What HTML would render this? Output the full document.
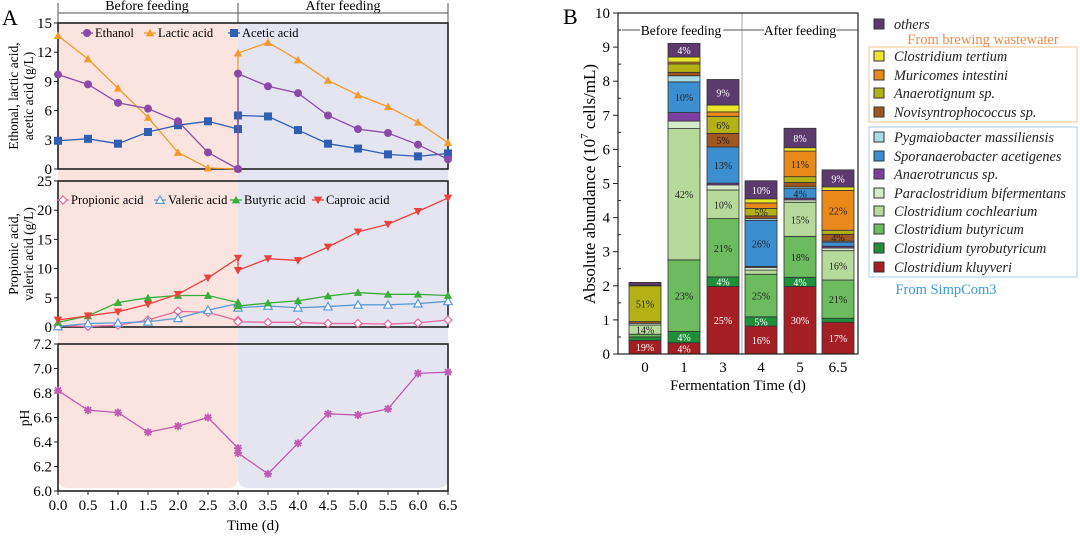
<!DOCTYPE html>
<html><head><meta charset="utf-8">
<style>
body{margin:0;background:#fff;}
svg{display:block;font-family:"Liberation Serif",serif;}
</style></head>
<body>
<svg id="fig" width="1080" height="541" viewBox="0 0 1080 541" xmlns="http://www.w3.org/2000/svg">
<g id="A"></g>
<g id="B"></g>
</svg>
<script>
// ---------- Panel A data ----------
const times = [0,0.5,1.0,1.5,2.0,2.5,3.0,3.0,3.5,4.0,4.5,5.0,5.5,6.0,6.5];
const ethanol = [9.7,8.7,6.8,6.2,4.9,1.7,0,9.8,8.5,7.8,5.5,4.1,3.7,2.5,1.0];
const lactic  = [13.7,11.3,8.3,5.3,1.7,0.1,0,11.9,13.0,11.2,9.1,7.6,6.4,4.8,2.7];
const acetic  = [2.9,3.1,2.6,3.8,4.5,4.9,4.1,5.5,5.4,4.0,2.6,2.1,1.5,1.3,1.6];
const propionic = [0.2,0.1,0.3,1.2,2.7,2.5,1.1,0.9,0.8,0.8,0.6,0.6,0.5,0.7,1.2];
const valeric = [0.1,0.6,0.7,0.9,1.5,2.9,4.0,3.3,3.6,3.3,3.5,3.8,3.8,4.0,4.4];
const butyric = [0.8,1.9,4.2,5.0,5.4,5.4,4.2,3.6,4.1,4.5,5.3,5.9,5.6,5.6,5.4];
const caproic = [1.2,1.9,2.6,3.9,5.6,8.4,11.8,9.7,11.7,11.4,13.7,16.3,17.6,19.8,22.1];
const ph = [6.82,6.66,6.64,6.48,6.53,6.60,6.35,6.31,6.14,6.39,6.63,6.62,6.67,6.96,6.97];
const xTicks = ["0.0","0.5","1.0","1.5","2.0","2.5","3.0","3.5","4.0","4.5","5.0","5.5","6.0","6.5"];
const topTicks = [0,3,6,9,12,15];
const midTicks = [0,5,10,15,20,25];
const phTicks = ["6.0","6.2","6.4","6.6","6.8","7.0","7.2"];

// ---------- Panel B data ----------
const bCats = ["0","1","3","4","5","6.5"];
const species = ["Clostridium kluyveri","Clostridium tyrobutyricum","Clostridium butyricum","Clostridium cochlearium","Paraclostridium bifermentans","Anaerotruncus sp.","Sporanaerobacter acetigenes","Pygmaiobacter massiliensis","Novisyntrophococcus sp.","Anaerotignum sp.","Muricomes intestini","Clostridium tertium","others"];
const kluyveri = [0.40,0.33,1.98,0.82,1.98,0.93];
const tyrobutyricum = [0.10,0.33,0.28,0.27,0.27,0.12];
const butyricum = [0.08,2.10,1.71,1.25,1.20,1.12];
const cochlearium = [0.27,3.85,0.84,0.12,1.00,0.86];
const bifermentans = [0.05,0.22,0.15,0.08,0.07,0.08];
const anaerotruncus = [0.00,0.25,0.05,0.03,0.05,0.05];
const sporanaerobacter = [0.00,0.90,1.06,1.35,0.28,0.12];
const pygmaiobacter = [0.00,0.18,0.00,0.05,0.05,0.03];
const novisyntrophococcus = [0.05,0.10,0.40,0.08,0.13,0.20];
const anaerotignum = [1.05,0.25,0.50,0.22,0.17,0.12];
const muricomes = [0.00,0.05,0.13,0.16,0.75,1.17];
const tertium = [0.02,0.15,0.20,0.12,0.10,0.10];
const others = [0.08,0.40,0.75,0.53,0.57,0.50];
const lblKluyveri = ["19%","4%","25%","16%","30%","17%"];
const lblTyro = ["","4%","4%","5%","4%",""];
const lblButy = ["","23%","21%","25%","18%","21%"];
const lblCoch = ["14%","42%","10%","","15%","16%"];
const lblSpor = ["","10%","13%","26%","4%",""];
const lblNovi = ["","","5%","","","4%"];
const lblAnaerotignum = ["51%","","6%","5%","",""];
const lblMuricomes = ["","","","","11%","22%"];
const lblOthers = ["","4%","9%","10%","8%","9%"];
const bTicks = [0,1,2,3,4,5,6,7,8,9,10];

const NS="http://www.w3.org/2000/svg";
function mk(parent,tag,attrs,text){
  const e=document.createElementNS(NS,tag);
  for(const k in attrs) e.setAttribute(k,attrs[k]);
  if(text!==undefined) e.textContent=text;
  parent.appendChild(e); return e;
}
const A=document.getElementById('A');
const B=document.getElementById('B');

// ---- Panel A scales
const xA = t => 58 + t*60;
const yTop = v => 169 - v*(146/15);
const yMid = v => 327 - v*(146/25);
const yPh = v => 491 - (v-6.0)*(147/1.2);

let s1=mk(A,'path',{d:`M58,23 H238 V478 Q238,488 228,488 H68 Q58,488 58,478 Z`,fill:'#fbe4df'});


let s2=mk(A,'path',{d:`M238,23 H448 V478 Q448,488 438,488 H248 Q238,488 238,478 Z`,fill:'#e5e5f2'});



mk(A,'line',{x1:58,y1:13,x2:448,y2:13,stroke:'#555','stroke-width':1});
[58,238,448].forEach(x=>mk(A,'line',{x1:x,y1:3,x2:x,y2:23,stroke:'#555','stroke-width':1}));
let h1=mk(A,'text',{x:147,y:10,'text-anchor':'middle','font-size':14},'Before feeding');


let h2=mk(A,'text',{x:343,y:10,'text-anchor':'middle','font-size':14},'After feeding');


mk(A,'text',{x:2,y:25,'font-size':22},'A');

function frame(y0,y1,name){
  const r=mk(A,'rect',{x:58,y:y0,width:390,height:y1-y0,fill:'none',stroke:'#222','stroke-width':1.6});
  
  
}
frame(23,169,'top-plot-frame');frame(181,327,'middle-plot-frame');frame(344,491,'ph-plot-frame');

function yAxis(ticks,yf,vals){
  ticks.forEach((t,i)=>{
    const v = vals?vals[i]:t; const y=yf(v);
    mk(A,'line',{x1:54,y1:y,x2:58,y2:y,stroke:'#222'});
    const tx=mk(A,'text',{x:52,y:y+5,'text-anchor':'end','font-size':15},String(t));
    
    
  });
}
yAxis(topTicks,yTop);yAxis(midTicks,yMid);
yAxis(phTicks,yPh,phTicks.map(Number));
xTicks.forEach(t=>{
  const x=xA(Number(t));
  mk(A,'line',{x1:x,y1:491,x2:x,y2:495,stroke:'#222'});
  const tx=mk(A,'text',{x:x,y:510,'text-anchor':'middle','font-size':15},t);
  
  
});
let xt=mk(A,'text',{x:253,y:530,'text-anchor':'middle','font-size':15},'Time (d)');



function rotLabel(lines,x,yc,name){
  const g=mk(A,'text',{transform:`translate(${x},${yc}) rotate(-90)`,'text-anchor':'middle','font-size':13.5});
  lines.forEach((l,i)=>mk(g,'tspan',{x:0,dy:i?15:0},l));
  
  
}
rotLabel(['Ethonal, lactic acid,','acetic acid (g/L)'],18,96,'top-y-axis-title');
rotLabel(['Propionic acid,','valeric acid (g/L)'],18,254,'middle-y-axis-title');
rotLabel(['pH'],29,418,'ph-y-axis-title');

function marker(g,shape,x,y,col){
  const s=4.2;
  if(shape==='circle') mk(g,'circle',{cx:x,cy:y,r:4,fill:col});
  else if(shape==='square') mk(g,'rect',{x:x-4,y:y-4,width:8,height:8,fill:col});
  else if(shape==='tri') mk(g,'path',{d:`M${x},${y-s} L${x+s},${y+s*0.8} L${x-s},${y+s*0.8}Z`,fill:col});
  else if(shape==='otri') mk(g,'path',{d:`M${x},${y-s} L${x+s},${y+s*0.8} L${x-s},${y+s*0.8}Z`,fill:'#fff',stroke:col,'stroke-width':1.2});
  else if(shape==='dtri') mk(g,'path',{d:`M${x},${y+s} L${x+s},${y-s*0.8} L${x-s},${y-s*0.8}Z`,fill:col});
  else if(shape==='odia') mk(g,'path',{d:`M${x},${y-4} L${x+4},${y} L${x},${y+4} L${x-4},${y}Z`,fill:'#fff',stroke:col,'stroke-width':1.2});
  else if(shape==='star'){
    mk(g,'path',{d:`M${x-4},${y}H${x+4}M${x},${y-4}V${y+4}M${x-3},${y-3}L${x+3},${y+3}M${x-3},${y+3}L${x+3},${y-3}`,stroke:col,'stroke-width':1.8});
  }
}
function series(vals,yf,col,shape,name){
  const g=mk(A,'g',{});
  
  
  const pts=vals.map((v,i)=>[xA(times[i]),yf(v)]);
  mk(g,'polyline',{points:pts.map(p=>p.join(',')).join(' '),fill:'none',stroke:col,'stroke-width':1.3});
  pts.forEach(p=>marker(g,shape,p[0],p[1],col));
}
series(lactic,yTop,'#f39a2b','tri','lactic-acid-series');
series(acetic,yTop,'#2f5fb3','square','acetic-acid-series');
series(ethanol,yTop,'#8a4aa8','circle','ethanol-series');
series(propionic,yMid,'#e8689b','odia','propionic-acid-series');
series(valeric,yMid,'#5b9bd5','otri','valeric-acid-series');
series(butyric,yMid,'#3aae3a','tri','butyric-acid-series');
series(caproic,yMid,'#ee3f3f','dtri','caproic-acid-series');
series(ph,yPh,'#c05ab3','star','ph-series');

function legA(x,y,col,shape,label,name){
  const g=mk(A,'g',{});
  
  
  mk(g,'line',{x1:x-6,y1:y,x2:x+6,y2:y,stroke:col,'stroke-width':1.3});
  marker(g,shape,x,y,col);
  mk(g,'text',{x:x+8,y:y+4,'font-size':12.5},label);
}
legA(87,33,'#8a4aa8','circle','Ethanol','legend-ethanol');
legA(150,33,'#f39a2b','tri','Lactic acid','legend-lactic-acid');
legA(234,33,'#2f5fb3','square','  Acetic acid','legend-acetic-acid');
legA(63,200,'#e8689b','odia','Propionic acid','legend-propionic-acid');
legA(160,200,'#5b9bd5','otri','Valeric acid','legend-valeric-acid');
legA(236,200,'#3aae3a','tri','Butyric acid','legend-butyric-acid');
legA(318,200,'#ee3f3f','dtri','Caproic acid','legend-caproic-acid');

// ---- Panel B
const yB = v => 354 - v*34.1;
const barX = [645,684,723,761,800,838];
const BW=32;
const stackVals=[kluyveri,tyrobutyricum,butyricum,cochlearium,bifermentans,anaerotruncus,sporanaerobacter,pygmaiobacter,novisyntrophococcus,anaerotignum,muricomes,tertium,others];
const colors=['#a31f24','#1f8f3a','#6cbb5e','#b6da9b','#d4eacb','#7b3fa0','#3b8fd0','#a9dce2','#a0561f','#b3b116','#e8891a','#ece62b','#5c3a6e'];
const stackLabels={0:lblKluyveri,1:lblTyro,2:lblButy,3:lblCoch,6:lblSpor,8:lblNovi,9:lblAnaerotignum,10:lblMuricomes,12:lblOthers};
const whiteLbl={0:1,12:1,1:1};

mk(B,'text',{x:563,y:24,'font-size':22},'B');
bTicks.forEach(t=>{
  const y=yB(t);
  mk(B,'line',{x1:613,y1:y,x2:618,y2:y,stroke:'#222'});
  if(t<10) mk(B,'line',{x1:618,y1:yB(t+0.5),x2:621,y2:yB(t+0.5),stroke:'#222'});
  const tx=mk(B,'text',{x:610,y:y+5,'text-anchor':'end','font-size':15},String(t));
  
  
});
mk(B,'line',{x1:742,y1:13,x2:742,y2:354,stroke:'#aaa','stroke-width':1});
mk(B,'line',{x1:622,y1:30,x2:640,y2:30,stroke:'#555'});
mk(B,'line',{x1:723,y1:30,x2:764,y2:30,stroke:'#555'});
mk(B,'line',{x1:836,y1:30,x2:858,y2:30,stroke:'#555'});
let bf=mk(B,'text',{x:681,y:35,'text-anchor':'middle','font-size':13.5},'Before feeding');


let af=mk(B,'text',{x:800,y:35,'text-anchor':'middle','font-size':13.5},'After feeding');



bCats.forEach((c,bi)=>{
  const g=mk(B,'g',{});
  
  
  let cum=0;
  stackVals.forEach((arr,si)=>{
    const v=arr[bi]; if(v<=0) return;
    const y0=yB(cum), y1=yB(cum+v);
    const r=mk(g,'rect',{x:barX[bi]-BW/2,y:y1,width:BW,height:y0-y1,fill:colors[si],stroke:'#333','stroke-width':0.8});
    
    
    const L=stackLabels[si];
    if(L && L[bi]){
      mk(g,'text',{x:barX[bi],y:(y0+y1)/2+4,'text-anchor':'middle','font-size':10,fill:whiteLbl[si]?'#fff':'#222'},L[bi]);
    }
    cum+=v;
  });
  const tx=mk(B,'text',{x:barX[bi],y:372,'text-anchor':'middle','font-size':15},c);
  
  
});
let fr=mk(B,'rect',{x:618,y:13,width:240,height:341,fill:'none',stroke:'#222','stroke-width':1.2});


let bxt=mk(B,'text',{x:738,y:390,'text-anchor':'middle','font-size':15},'Fermentation Time (d)');


const byt=mk(B,'text',{transform:'translate(595,184) rotate(-90)','text-anchor':'middle','font-size':17});
mk(byt,'tspan',{},'Absolute abundance (10');
mk(byt,'tspan',{dy:-7,'font-size':11},'7');
mk(byt,'tspan',{dy:7},' cells/mL)');



const legOrder=[12,11,10,9,8,7,6,5,4,3,2,1,0];
const legY=[24,56,75,93,112,137,156,174,193,211,229,248,267];
mk(B,'rect',{x:869,y:47,width:208,height:75,fill:'none',stroke:'#f5c48e','stroke-width':1});
mk(B,'rect',{x:869,y:127,width:208,height:150,fill:'none',stroke:'#9fcdee','stroke-width':1});
legOrder.forEach((si,i)=>{
  const g=mk(B,'g',{});
  
  
  mk(g,'rect',{x:874,y:legY[i]-5,width:10,height:10,fill:colors[si],stroke:'#333','stroke-width':1});
  mk(g,'text',{x:894,y:legY[i]+5,'font-size':14.3,'font-style':'italic',fill:'#222'},species[si]);
});
let fb=mk(B,'text',{x:983,y:44,'text-anchor':'middle','font-size':14.5,fill:'#f08a4b'},'From brewing wastewater');


let fs=mk(B,'text',{x:946,y:294,'text-anchor':'middle','font-size':14.5,fill:'#3c9ad6'},'From SimpCom3');


</script>
</body></html>
